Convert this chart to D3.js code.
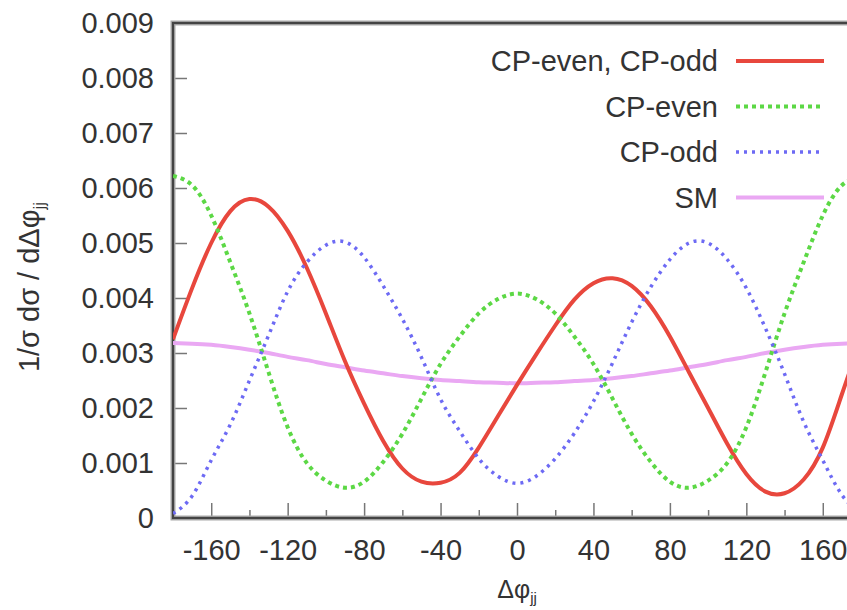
<!DOCTYPE html>
<html>
<head>
<meta charset="utf-8">
<script src="https://cdn.jsdelivr.net/npm/d3@7"></script>
<style>
  body { margin: 0; background: #fff; }
  text { font-family: "Liberation Sans", Arial, Helvetica, sans-serif; fill: #333; }
</style>
</head>
<body>
<svg id="chart" width="847" height="610"></svg>
<script>
// Azimuthal angle difference between the two tagging jets (degrees)
const dphi = [-180, -170, -160, -150, -140, -130, -120, -110, -100, -90,
              -80, -70, -60, -50, -40, -30, -20, -10, 0,
              10, 20, 30, 40, 50, 60, 70, 80, 90,
              100, 110, 120, 130, 140, 150, 160, 170, 180];

// Normalised distributions 1/σ dσ/dΔφjj
const mixed = [0.00325, 0.00418, 0.00500, 0.00558, 0.00580, 0.00566, 0.00522, 0.00455, 0.00372, 0.00285,
               0.00208, 0.00140, 0.00090, 0.00066, 0.00064, 0.00082, 0.00128, 0.00185, 0.00242,
               0.00297, 0.00350, 0.00397, 0.00427, 0.00436, 0.00422, 0.00385, 0.00330, 0.00265,
               0.00200, 0.00135, 0.00080, 0.00048, 0.00045, 0.00070, 0.00128, 0.00225, 0.00325];

const cpEven = [0.00622, 0.00605, 0.00550, 0.00465, 0.00372, 0.00265, 0.00165, 0.00100, 0.00068, 0.00055,
                0.00066, 0.00102, 0.00153, 0.00217, 0.00280, 0.00330, 0.00372, 0.00398, 0.00408,
                0.00398, 0.00372, 0.00330, 0.00280, 0.00217, 0.00153, 0.00102, 0.00066, 0.00055,
                0.00068, 0.00100, 0.00165, 0.00265, 0.00372, 0.00465, 0.00550, 0.00605, 0.00622];

const cpOdd = [0.00008, 0.00040, 0.00105, 0.00170, 0.00250, 0.00332, 0.00412, 0.00465, 0.00496, 0.00502,
               0.00474, 0.00422, 0.00362, 0.00292, 0.00216, 0.00158, 0.00108, 0.00076, 0.00063,
               0.00076, 0.00108, 0.00154, 0.00212, 0.00282, 0.00356, 0.00420, 0.00470, 0.00500,
               0.00500, 0.00470, 0.00418, 0.00345, 0.00262, 0.00175, 0.00105, 0.00042, 0.00008];

const sm = [0.00318, 0.00317, 0.00315, 0.00311, 0.00306, 0.00300, 0.00293, 0.00287, 0.00280, 0.00274,
            0.00268, 0.00263, 0.00258, 0.00254, 0.00251, 0.00249, 0.00247, 0.00246, 0.00245,
            0.00246, 0.00247, 0.00249, 0.00251, 0.00254, 0.00258, 0.00263, 0.00268, 0.00274,
            0.00280, 0.00287, 0.00293, 0.00300, 0.00306, 0.00311, 0.00315, 0.00317, 0.00318];

const seriesNames = ["CP-even, CP-odd", "CP-even", "CP-odd", "SM"];

// Axis ticks
const xMajorTicks = [-160, -120, -80, -40, 0, 40, 80, 120, 160];
const xMinorTicks = [-180, -140, -100, -60, -20, 20, 60, 100, 140, 180];
const yTicks = [0, 0.001, 0.002, 0.003, 0.004, 0.005, 0.006, 0.007, 0.008, 0.009];
const yTickLabels = ["0", "0.001", "0.002", "0.003", "0.004", "0.005", "0.006", "0.007", "0.008", "0.009"];

// Drawing styles per series
const styles = [
  { color: "#e8473d", width: 4,   dash: null },
  { color: "#5cd845", width: 4,   dash: "4,4" },
  { color: "#6d6af4", width: 3.5, dash: "3,5" },
  { color: "#eaa8f3", width: 4,   dash: null }
];

const svg = d3.select("#chart");
const plotL = 173, plotR = 861, plotT = 23, plotB = 518;

const x = d3.scaleLinear().domain([-180, 180]).range([plotL, plotR]);
const y = d3.scaleLinear().domain([0, 0.009]).range([plotB, plotT]);

svg.append("defs").append("clipPath").attr("id", "plotArea")
  .append("rect").attr("x", plotL).attr("y", plotT)
  .attr("width", plotR - plotL).attr("height", plotB - plotT);

// Y axis: inward ticks, labels to the left
const yAxis = svg.append("g")
  .attr("transform", `translate(${plotL},0)`)
  .call(d3.axisLeft(y).tickValues(yTicks).tickSize(-14).tickPadding(19)
        .tickFormat((d, i) => yTickLabels[i]));
yAxis.select(".domain").remove();
yAxis.selectAll("line").attr("stroke", "#777").attr("stroke-width", 1.5);
yAxis.selectAll("text").style("font-size", "29px").attr("fill", "#3a3a3a");

// X axis: major and minor inward ticks (plain hyphen for negatives)
const xAxis = svg.append("g")
  .attr("transform", `translate(0,${plotB})`)
  .call(d3.axisBottom(x).tickValues(xMajorTicks).tickSize(-15).tickPadding(21)
        .tickFormat(d => String(d)));
xAxis.select(".domain").remove();
xAxis.selectAll("line").attr("stroke", "#777").attr("stroke-width", 1.5);
xAxis.selectAll("text").style("font-size", "29px").attr("fill", "#3a3a3a");

const xMinor = svg.append("g")
  .attr("transform", `translate(0,${plotB})`)
  .call(d3.axisBottom(x).tickValues(xMinorTicks).tickSize(-8).tickFormat(""));
xMinor.select(".domain").remove();
xMinor.selectAll("line").attr("stroke", "#777").attr("stroke-width", 1.5);

// Frame around the plot
svg.append("rect")
  .attr("x", plotL).attr("y", plotT)
  .attr("width", plotR - plotL).attr("height", plotB - plotT)
  .attr("fill", "none").attr("stroke", "#aaa").attr("stroke-width", 5);
svg.append("rect")
  .attr("x", plotL).attr("y", plotT)
  .attr("width", plotR - plotL).attr("height", plotB - plotT)
  .attr("fill", "none").attr("stroke", "#444").attr("stroke-width", 2.2);

// Curves
const allSeries = [mixed, cpEven, cpOdd, sm];
const line = d3.line()
  .x(d => x(d[0]))
  .y(d => y(d[1]))
  .curve(d3.curveNatural);

const curves = svg.append("g").attr("clip-path", "url(#plotArea)");
// SM goes underneath the other three
[3, 0, 1, 2].forEach(i => {
  const pts = dphi.map((v, k) => [v, allSeries[i][k]]);
  curves.append("path")
    .datum(pts)
    .attr("d", line)
    .attr("fill", "none")
    .attr("stroke", styles[i].color)
    .attr("stroke-width", styles[i].width)
    .attr("stroke-dasharray", styles[i].dash)
    .attr("stroke-linecap", "butt");
});

// Legend
const legend = svg.append("g");
seriesNames.forEach((name, i) => {
  const yy = 61 + i * 45.5;
  legend.append("text")
    .attr("x", 718).attr("y", yy)
    .attr("text-anchor", "end")
    .attr("dominant-baseline", "central")
    .style("font-size", "29px")
    .attr("fill", "#3a3a3a")
    .text(name);
  legend.append("line")
    .attr("x1", 736).attr("x2", 824)
    .attr("y1", yy).attr("y2", yy)
    .attr("stroke", styles[i].color)
    .attr("stroke-width", styles[i].width)
    .attr("stroke-dasharray", styles[i].dash);
});

// Axis titles
const xTitle = svg.append("text")
  .attr("x", 517).attr("y", 598)
  .attr("text-anchor", "middle")
  .style("font-size", "25px");
xTitle.append("tspan").text("Δφ");
xTitle.append("tspan").attr("dy", 5).style("font-size", "15px").text("jj");

const yTitle = svg.append("text")
  .attr("transform", "translate(39,287) rotate(-90)")
  .attr("text-anchor", "middle")
  .style("font-size", "29px");
yTitle.append("tspan").text("1/σ  dσ / dΔφ");
yTitle.append("tspan").attr("dy", 6).style("font-size", "17px").text("jj");
</script>
</body>
</html>
